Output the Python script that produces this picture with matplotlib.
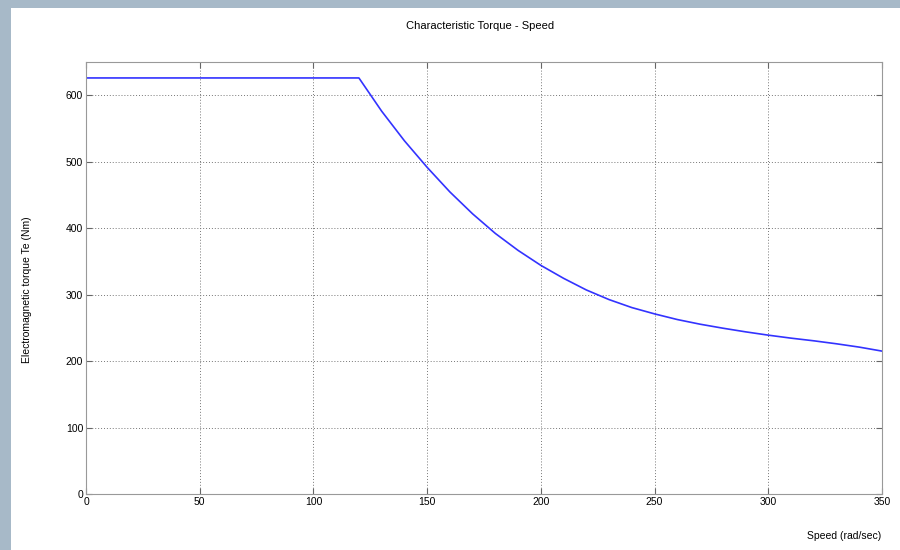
import matplotlib.pyplot as plt
from matplotlib.patches import Rectangle

plt.rcParams['font.family'] = ['Liberation Sans', 'DejaVu Sans']

speed = [0, 120, 130, 140, 150, 160, 170, 180, 190, 200, 210, 220, 230,
         240, 250, 260, 270, 280, 290, 300, 310, 320, 330, 340, 350]
torque = [626, 626, 576, 531.5, 491.5, 454.5, 421.5, 392, 366.5, 344, 324.5, 307, 292.5,
          280.5, 271, 262.5, 255.5, 249.5, 244, 239, 234.5, 230.5, 226, 221, 215]

x_ticks = [0, 50, 100, 150, 200, 250, 300, 350]
y_ticks = [0, 100, 200, 300, 400, 500, 600]

fig = plt.figure(figsize=(9, 5.5), dpi=100)
fig.patch.set_facecolor('#a7b9c8')
# zone blanche de la fenêtre (capture d'écran)
fig.patches.append(Rectangle((11 / 900, 0), 1, 1 - 8 / 550, transform=fig.transFigure,
                             facecolor='white', edgecolor='none', zorder=-5))

ax = fig.add_axes([86 / 900, 56 / 550, 796 / 900, 432 / 550])
ax.set_zorder(2)
ax.plot(speed, torque, color='#3333ff', linewidth=1.2)

ax.set_xlim(0, 350)
ax.set_ylim(0, 650)
ax.set_xticks(x_ticks)
ax.set_yticks(y_ticks)
ax.tick_params(direction='in', top=True, right=True, labelsize=7.5, length=4,
               color='#666666', pad=2)
for s in ax.spines.values():
    s.set_color('#999999')
ax.grid(True, color='#777777', linestyle=(0, (1, 2)), linewidth=0.7)

fig.text(480 / 900, 1 - 26 / 550, 'Characteristic Torque - Speed', ha='center', va='center', fontsize=8)
fig.text(881 / 900, 1 - 536 / 550, 'Speed (rad/sec)', ha='right', va='center', fontsize=7.5)
fig.text(27 / 900, 1 - 290 / 550, 'Electromagnetic torque Te (Nm)', ha='center', va='center',
         rotation=90, fontsize=7.5)

plt.savefig('out.png', dpi=100)
